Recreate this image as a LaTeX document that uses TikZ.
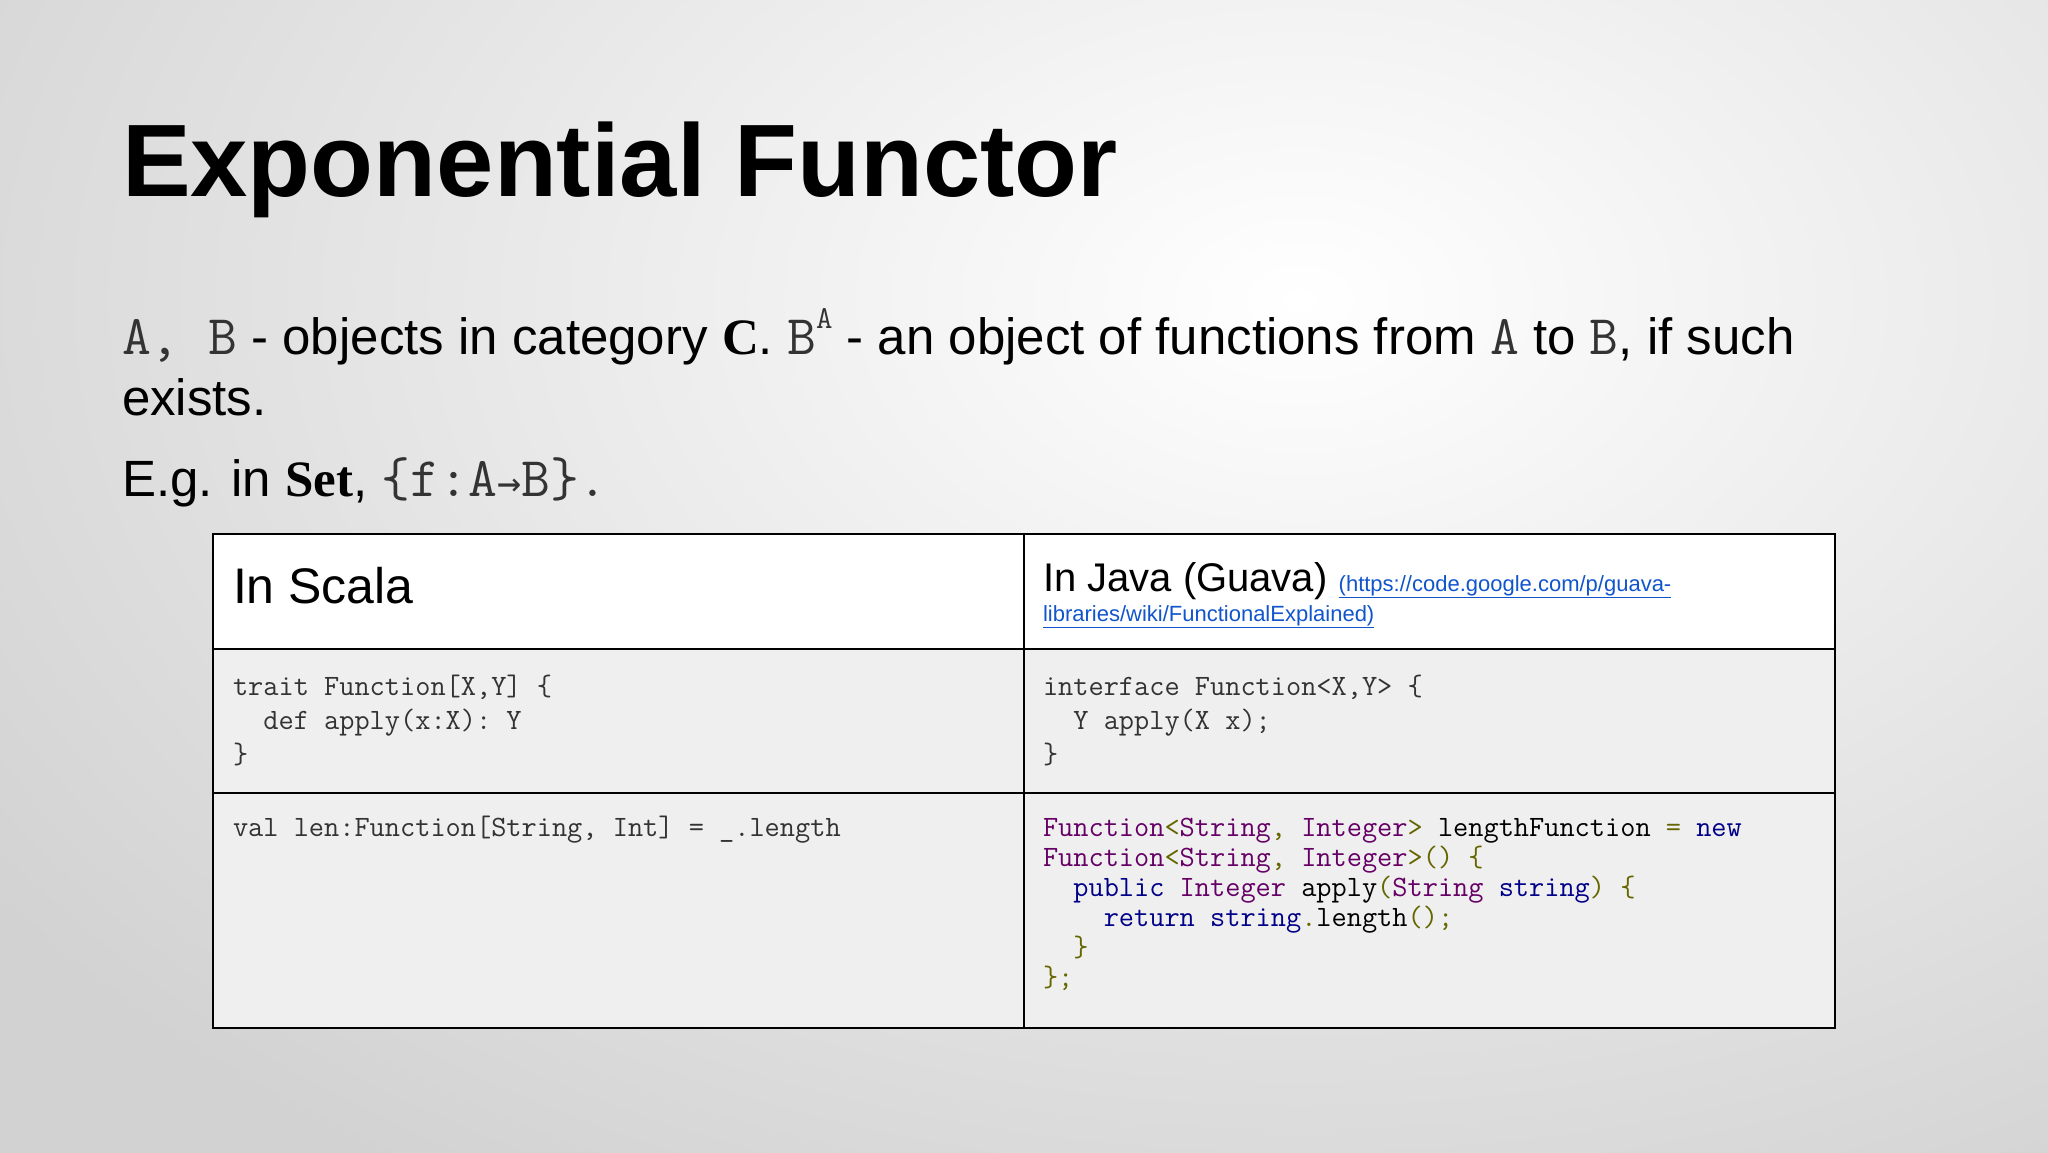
\documentclass[tikz,border=0pt]{standalone}
\usepackage{fontspec}
\setmainfont{Liberation Sans}
\newfontfamily\serifb{Liberation Serif}
\newfontfamily\arr{DejaVu Sans Mono}
\definecolor{edge}{HTML}{D2D2D2}
\definecolor{cellg}{HTML}{EFEFEF}
\definecolor{typ}{HTML}{660066}
\definecolor{pun}{HTML}{666600}
\definecolor{kwd}{HTML}{000088}
\definecolor{lnk}{HTML}{1155CC}
\definecolor{mono}{HTML}{333333}
\begin{document}
\begin{tikzpicture}[x=1pt,y=-1pt,
  txt/.style={anchor=base west,inner sep=0pt,outer sep=0pt},
  code/.style={txt,font=\fontsize{29.5}{34}\ttfamily,text=mono},
  grid/.style={draw=black,line width=2.2pt}]
\useasboundingbox (0,0) rectangle (2048,1152);
\begin{scope}
\clip (0,0) rectangle (2048,1152);
\fill[edge] (0,0) rectangle (2048,1152);
\shade[inner color=white,outer color=edge] (-300,-750) rectangle (2900,1350);
\end{scope}
\node[txt,font=\fontsize{103}{120}\selectfont\bfseries] (title) at (122,196) {Exponential Functor};
\node[txt,font=\fontsize{51}{60}\selectfont] (l1) at (122,354)
 {{\fontsize{56}{60}\ttfamily\color{mono}A,~B} - objects in category {\serifb\bfseries C}. {\fontsize{56}{60}\ttfamily\color{mono}B\raisebox{0.45em}{\fontsize{32}{32}\selectfont A}} - an object of functions from {\fontsize{56}{60}\ttfamily\color{mono}A} to {\fontsize{56}{60}\ttfamily\color{mono}B}, if such};
\node[txt,font=\fontsize{51}{60}\selectfont] (l2) at (122,415) {exists.};
\node[txt,font=\fontsize{51}{60}\selectfont] (l3) at (122,496) {E.g. in {\serifb\bfseries Set}, {\fontsize{56}{60}\ttfamily\color{mono}\{f:A{\arr\fontsize{40}{40}\selectfont→}B\}.}};
% table
\fill[white] (213,534) rectangle (1835,649);
\fill[cellg] (213,649) rectangle (1835,1028);
\draw[grid] (213,534) rectangle (1835,1028);
\draw[grid] (1024,534) -- (1024,1028);
\draw[grid] (213,649) -- (1835,649);
\draw[grid] (213,793) -- (1835,793);
\node[txt,font=\fontsize{50}{60}\selectfont] (hs) at (233,603) {In Scala};
\node[txt,font=\fontsize{40}{48}\selectfont] (hj) at (1043,591) {In Java (Guava) {\fontsize{22}{26}\selectfont\color{lnk}\underline{(https://code.google.com/p/guava-}}};
\node[txt,font=\fontsize{22}{26}\selectfont,text=lnk] (hj2) at (1043,621) {\underline{libraries/wiki/FunctionalExplained)}};
\node[code] (s1) at (233,695) {trait Function[X,Y] \{};
\node[code] (s2) at (233,729) {~~def apply(x:X): Y};
\node[code] (s3) at (233,763) {\}};
\node[code] (s4) at (233,836) {val len:Function[String, Int] = \_.length};
\node[code] (j1) at (1043,695) {interface Function<X,Y> \{};
\node[code] (j2) at (1043,729) {~~Y apply(X x);};
\node[code] (j3) at (1043,763) {\}};
\node[code] (k1) at (1043,836) {\color{typ}Function\color{pun}<\color{typ}String\color{pun},~\color{typ}Integer\color{pun}>~\color{black}lengthFunction~\color{pun}=~\color{kwd}new};
\node[code] (k2) at (1043,866) {\color{typ}Function\color{pun}<\color{typ}String\color{pun},~\color{typ}Integer\color{pun}>()~\{};
\node[code] (k3) at (1043,896) {~~\color{kwd}public~\color{typ}Integer~\color{black}apply\color{pun}(\color{typ}String~\color{kwd}string\color{pun})~\{};
\node[code] (k4) at (1043,926) {~~~~\color{kwd}return~string\color{pun}.\color{black}length\color{pun}();};
\node[code] (k5) at (1043,956) {~~\color{pun}\}};
\node[code] (k6) at (1043,986) {\color{pun}\};};
\end{tikzpicture}
\end{document}
